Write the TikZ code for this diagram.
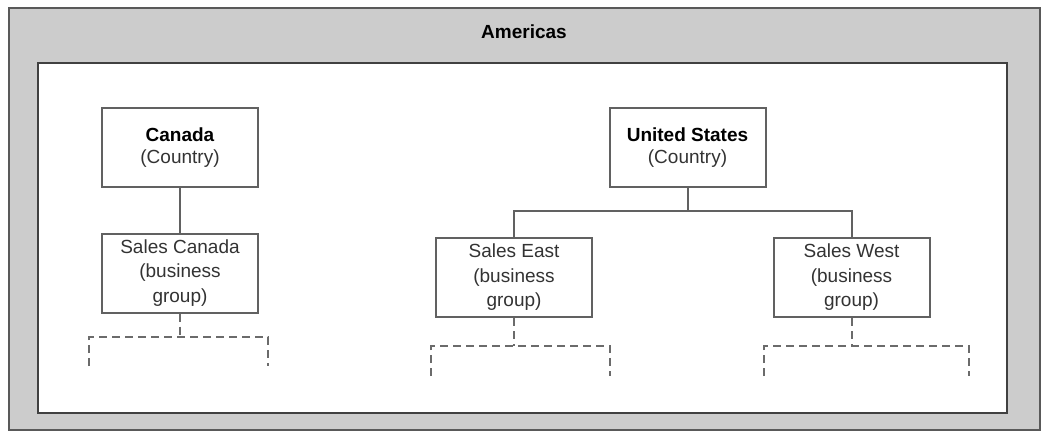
\documentclass[tikz,border=0pt]{standalone}
\usepackage{fontspec}
\setmainfont{Liberation Sans}
\begin{document}
\begin{tikzpicture}[x=1pt,y=-1pt,
  region/.style={draw=black!65,line width=2pt,fill=black!20},
  panel/.style={draw=black!75,line width=2pt,fill=white},
  unitbox/.style={draw=black!62,line width=2pt,fill=white,minimum width=156pt,
    inner sep=0pt,align=center,text=black!80,font=\fontsize{19}{24.5}\selectfont},
  link/.style={draw=black!62,line width=2pt},
  stub/.style={draw=black!58,line width=2pt,dash pattern=on 8pt off 5pt}]
\useasboundingbox (0,0) rectangle (1049,432);
% outer region and inner panel
\node[region,minimum width=1031pt,minimum height=422pt,inner sep=0pt] (amer) at (524.5,219) {};
\node[font=\bfseries\fontsize{19}{23}\selectfont] (amertitle) at (524,32) {Americas};
\node[panel,minimum width=969pt,minimum height=350pt,inner sep=0pt] (inner) at (522.5,237.5) {};
% countries
\node[unitbox,minimum height=79pt,font=\fontsize{19}{22.5}\selectfont] (canada) at (180,147.5)
  {{\color{black}\bfseries Canada}\\(Country)};
\node[unitbox,minimum height=79pt,font=\fontsize{19}{22.5}\selectfont] (us) at (687.5,147.5)
  {{\color{black}\bfseries United States}\\(Country)};
% business groups
\node[unitbox,minimum height=79pt] (salescan) at (180,273) {Sales Canada\\(business\\group)};
\node[unitbox,minimum height=79pt] (saleseast) at (514,277.5) {Sales East\\(business\\group)};
\node[unitbox,minimum height=79pt] (saleswest) at (851.5,277.5) {Sales West\\(business\\group)};
% solid links
\draw[link] (canada.south) -- (salescan.north);
\coordinate (usjoin) at (687.5,211);
\draw[link] (us.south) -- (usjoin);
\draw[link] (saleseast.north) |- (usjoin) -| (saleswest.north);
% dashed stubs below each business group
\coordinate (cj) at (180,337);
\coordinate (cl) at (89,337); \coordinate (cr) at (268,337);
\coordinate (cld) at (89,366); \coordinate (crd) at (268,366);
\draw[stub] (salescan.south) -- (cj);
\draw[stub] (cld) -- (cl) -- (cr) -- (crd);
\coordinate (ej) at (514,346);
\coordinate (el) at (431,346); \coordinate (er) at (610,346);
\coordinate (eld) at (431,376); \coordinate (erd) at (610,376);
\draw[stub] (saleseast.south) -- (ej);
\draw[stub] (eld) -- (el) -- (er) -- (erd);
\coordinate (wj) at (851.5,346);
\coordinate (wl) at (764,346); \coordinate (wr) at (969,346);
\coordinate (wld) at (764,376); \coordinate (wrd) at (969,376);
\draw[stub] (saleswest.south) -- (wj);
\draw[stub] (wld) -- (wl) -- (wr) -- (wrd);
\end{tikzpicture}
\end{document}
